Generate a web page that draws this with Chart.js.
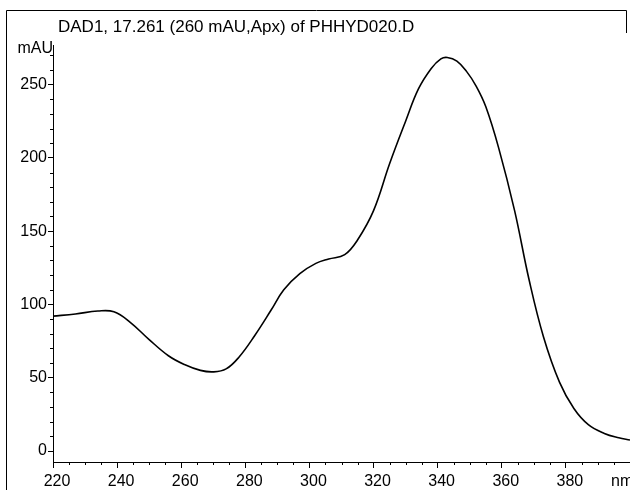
<!DOCTYPE html>
<html>
<head>
<meta charset="utf-8">
<script src="https://cdn.jsdelivr.net/npm/chart.js@4/dist/chart.umd.min.js"></script>
<style>
  html, body { margin: 0; padding: 0; background: #fff; }
  #wrap { width: 630px; height: 490px; }
</style>
</head>
<body>
<div id="wrap"><canvas id="myChart" width="630" height="490"></canvas></div>
<script>
// Data
  const title = 'DAD1, 17.261 (260 mAU,Apx) of PHHYD020.D';
  const wavelengths = [220, 227, 234, 239, 244, 250, 256, 261, 266, 270, 274, 278, 283, 288, 292, 297, 302, 306, 311, 315, 320, 325, 330, 334, 338, 341, 343, 346, 349, 352, 355, 359, 364, 368.5, 373, 378, 382.5, 387, 392, 396.5, 400];
  const absorbance = [92, 93.5, 95.5, 95, 88, 76, 65, 59, 55, 54, 56, 64, 79, 96, 110, 121, 128, 131, 134, 144, 164, 196, 225, 247, 261, 267.5, 268.5, 266, 259, 249, 235, 207, 164, 117, 78, 47, 29, 18, 12, 9, 7.5];
  const xTicks = [220, 240, 260, 280, 300, 320, 340, 360, 380];
  const yTicks = [0, 50, 100, 150, 200, 250];

  const points = wavelengths.map((w, i) => ({ x: w, y: absorbance[i] }));
  const font = { family: 'Liberation Sans, Arial, sans-serif', size: 16 };

// Extras: frame, title, unit labels, minor ticks
  const extras = {
    id: 'extras',
    afterDraw(chart) {
      const ctx = chart.ctx;
      const xs = chart.scales.x, ys = chart.scales.y;
      ctx.save();
      ctx.strokeStyle = '#000';
      ctx.lineWidth = 1;
      ctx.beginPath();
      ctx.moveTo(6.5, 490); ctx.lineTo(6.5, 10.5); ctx.lineTo(626.5, 10.5); ctx.lineTo(626.5, 33);
      ctx.stroke();

      // minor ticks
      ctx.beginPath();
      for (let v = 10; v < ys.max; v += 10) {
        if (v % 50 === 0) continue;
        const py = Math.round(ys.getPixelForValue(v)) + 0.5;
        ctx.moveTo(xs.left - 3, py); ctx.lineTo(xs.left, py);
      }
      for (let v = 225; v < xs.max; v += 5) {
        if (v % 20 === 0) continue;
        const px = Math.round(xs.getPixelForValue(v)) + 0.5;
        ctx.moveTo(px, ys.bottom); ctx.lineTo(px, ys.bottom + 3);
      }
      ctx.stroke();

      ctx.fillStyle = '#000';
      ctx.font = '17px Liberation Sans, Arial, sans-serif';
      ctx.textBaseline = 'middle';
      ctx.textAlign = 'left';
      ctx.fillText(title, 58, 27);
      ctx.font = '16px Liberation Sans, Arial, sans-serif';
      ctx.textAlign = 'right';
      ctx.fillText('mAU', xs.left, 49);
      ctx.textAlign = 'left';
      ctx.fillText('nm', 611, 482);
      ctx.restore();
    }
  };

// Config
  const config = {
    type: 'line',
    data: {
      datasets: [{
        data: points,
        borderColor: '#000',
        borderWidth: 1.6,
        pointRadius: 0,
        tension: 0.4,
        fill: false
      }]
    },
    options: {
      responsive: false,
      animation: false,
      layout: { padding: { top: 45, right: 0, left: 0, bottom: 0 } },
      plugins: { legend: { display: false }, tooltip: { enabled: false } },
      scales: {
        x: {
          type: 'linear',
          min: 220,
          max: 400,
          afterFit: (s) => { s.height = 28; },
          afterBuildTicks: (s) => { s.ticks = xTicks.map(v => ({ value: v })); },
          ticks: { color: '#000', font: font, padding: 4, labelOffset: 4, maxRotation: 0, autoSkip: false },
          grid: { drawOnChartArea: false, color: '#000', tickLength: 6 },
          border: { color: '#000', width: 1 }
        },
        y: {
          min: -7.5,
          max: 277,
          afterFit: (s) => { s.width = 53; },
          afterBuildTicks: (s) => { s.ticks = yTicks.map(v => ({ value: v })); },
          ticks: { color: '#000', font: font, padding: 1 },
          grid: { drawOnChartArea: false, color: '#000', tickLength: 5 },
          border: { color: '#000', width: 1 }
        }
      }
    },
    plugins: [extras]
  };

  const myChart = new Chart(document.getElementById('myChart'), config);
</script>
</body>
</html>
